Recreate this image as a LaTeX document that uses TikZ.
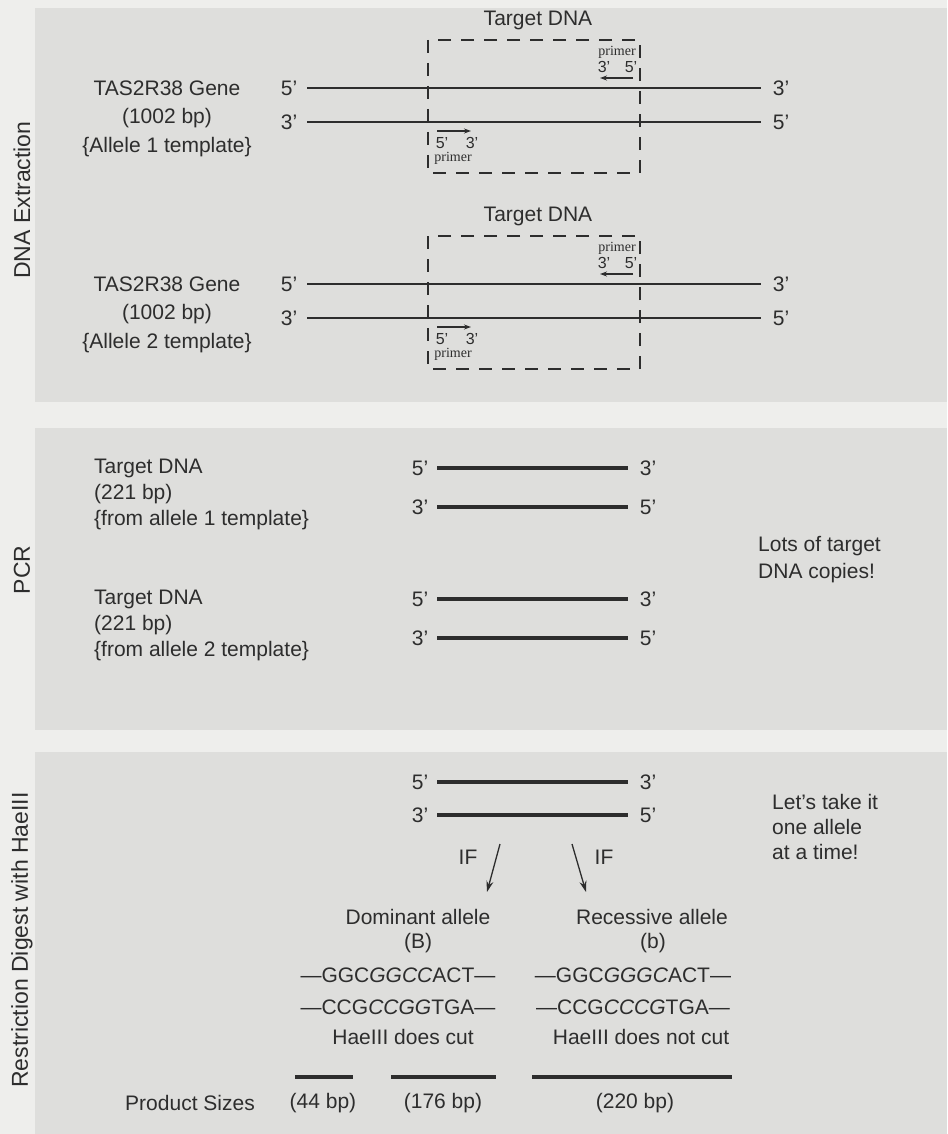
\documentclass[tikz,border=0pt]{standalone}
\usepackage{fontspec}
\setmainfont{Liberation Sans}
\newfontfamily\serifprimer{Liberation Serif}
\usetikzlibrary{arrows.meta}
\definecolor{ink}{RGB}{45,45,45}
\definecolor{bgtone}{RGB}{238,238,236}
\definecolor{paneltone}{RGB}{222,222,220}
\begin{document}
\begin{tikzpicture}[x=1pt,y=-1pt,
 lab/.style={font=\fontsize{21}{25}\selectfont, inner sep=0pt, text=ink},
 sec/.style={font=\fontsize{23}{27}\selectfont, inner sep=0pt, text=ink, rotate=90},
 strand/.style={draw=ink, line width=2.9pt},
 thickstrand/.style={draw=ink, line width=3.4pt},
 tbox/.style={draw=ink, line width=1.8pt, dash pattern=on 13pt off 10pt},
 plab/.style={font=\serifprimer\fontsize{14}{15}\selectfont, inner sep=0pt, text=ink},
 pend/.style={font=\fontsize{16}{18}\selectfont, inner sep=0pt, text=ink},
 parrow/.style={draw=ink, line width=1.2pt, -{Stealth[length=7pt,width=5pt]}},
 ifarrow/.style={draw=ink, line width=1.3pt, -{Stealth[length=11pt,width=7pt]}},
 panel/.style={fill=paneltone, draw=none}]
\useasboundingbox (0,0) rectangle (947,1134);
\fill[bgtone] (0,0) rectangle (947,1134);
\fill[panel] (35,8) rectangle (947,402);
\fill[panel] (35,428) rectangle (947,730);
\fill[panel] (35,752) rectangle (947,1134);

% section labels
\node[sec] (secA) at (22,200) {DNA Extraction};
\node[sec] (secB) at (22,570) {PCR};
\node[sec] (secC) at (22,940) {Restriction Digest with HaeIII};

% DNA extraction, two alleles
\foreach \i/\o in {1/0,2/196}{
  \node[lab] (td\i) at (538,20+\o) {Target DNA};
  \draw[tbox] (428,40+\o) rectangle (640,173+\o);
  \node[lab] (gA\i) at (167,88+\o) {TAS2R38 Gene};
  \node[lab] (gB\i) at (167,118+\o) {(1002 bp)};
  \node[lab] (gC\i) at (167,147+\o) {\{Allele \i\ template\}};
  \node[lab] (tl\i) at (289,88+\o) {5’};
  \node[lab] (tr\i) at (781,88+\o) {3’};
  \node[lab] (bl\i) at (289,122+\o) {3’};
  \node[lab] (br\i) at (781,122+\o) {5’};
  \coordinate (ta\i) at (307,88+\o);
  \coordinate (tb\i) at (761,88+\o);
  \coordinate (ba\i) at (307,122+\o);
  \coordinate (bb\i) at (761,122+\o);
  \draw[strand] (ta\i) -- (tb\i);
  \draw[strand] (ba\i) -- (bb\i);
  % reverse primer
  \node[plab] (rp\i) at (617,52+\o) {primer};
  \node[pend] (rp3\i) at (604,67+\o) {3’};
  \node[pend] (rp5\i) at (631,67+\o) {5’};
  \coordinate (rpa\i) at (633,78+\o);
  \coordinate (rpb\i) at (600,78+\o);
  \draw[parrow] (rpa\i) -- (rpb\i);
  % forward primer
  \coordinate (fpa\i) at (437,131+\o);
  \coordinate (fpb\i) at (471,131+\o);
  \draw[parrow] (fpa\i) -- (fpb\i);
  \node[pend] (fp5\i) at (442,143+\o) {5’};
  \node[pend] (fp3\i) at (472,143+\o) {3’};
  \node[plab] (fp\i) at (453,158+\o) {primer};
}

% PCR
\foreach \i/\o in {1/0,2/131}{
  \node[lab,anchor=west] (pA\i) at (94,468+\o) {Target DNA};
  \node[lab,anchor=west] (pB\i) at (94,494+\o) {(221 bp)};
  \node[lab,anchor=west] (pC\i) at (94,520+\o) {\{from allele \i\ template\}};
  \node[lab] (ptl\i) at (420,468+\o) {5’};
  \node[lab] (ptr\i) at (648,468+\o) {3’};
  \node[lab] (pbl\i) at (420,507+\o) {3’};
  \node[lab] (pbr\i) at (648,507+\o) {5’};
  \coordinate (pta\i) at (437,468+\o);
  \coordinate (ptb\i) at (628,468+\o);
  \coordinate (pba\i) at (437,507+\o);
  \coordinate (pbb\i) at (628,507+\o);
  \draw[thickstrand] (pta\i) -- (ptb\i);
  \draw[thickstrand] (pba\i) -- (pbb\i);
}
\node[lab,anchor=west] (lots1) at (758,546) {Lots of target};
\node[lab,anchor=west] (lots2) at (758,573) {DNA copies!};

% Restriction digest
\node[lab] (rtl) at (420,782) {5’};
\node[lab] (rtr) at (648,782) {3’};
\node[lab] (rbl) at (420,815) {3’};
\node[lab] (rbr) at (648,815) {5’};
\coordinate (rta) at (437,782);
\coordinate (rtb) at (628,782);
\coordinate (rba) at (437,815);
\coordinate (rbb) at (628,815);
\draw[thickstrand] (rta) -- (rtb);
\draw[thickstrand] (rba) -- (rbb);

\node[lab,anchor=west] (let1) at (772,802) {Let’s take it};
\node[lab,anchor=west] (let2) at (772,827) {one allele};
\node[lab,anchor=west] (let3) at (772,852) {at a time!};

\coordinate (ifLa) at (500,844);
\coordinate (ifLb) at (487,892);
\coordinate (ifRa) at (572,844);
\coordinate (ifRb) at (586,892);
\draw[ifarrow] (ifLa) -- (ifLb);
\draw[ifarrow] (ifRa) -- (ifRb);
\node[lab] (ifL) at (468,857) {IF};
\node[lab] (ifR) at (604,857) {IF};

\node[lab] (dom) at (418,917) {Dominant allele};
\node[lab] (domB) at (418,943) {(B)};
\node[lab] (domS1) at (398,975) {—GGC\textit{GGCC}ACT—};
\node[lab] (domS2) at (398,1007) {—CCG\textit{CCGG}TGA—};
\node[lab] (domC) at (403,1037) {HaeIII does cut};

\node[lab] (rec) at (652,917) {Recessive allele};
\node[lab] (recB) at (653,943) {(b)};
\node[lab] (recS1) at (633,975) {—GGC\textit{GGGC}ACT—};
\node[lab] (recS2) at (633,1007) {—CCG\textit{CCCG}TGA—};
\node[lab] (recC) at (641,1037) {HaeIII does not cut};

\coordinate (p1a) at (295,1077);
\coordinate (p1b) at (353,1077);
\coordinate (p2a) at (391,1077);
\coordinate (p2b) at (496,1077);
\coordinate (p3a) at (532,1077);
\coordinate (p3b) at (732,1077);
\draw[thickstrand] (p1a) -- (p1b);
\draw[thickstrand] (p2a) -- (p2b);
\draw[thickstrand] (p3a) -- (p3b);

\node[lab] (ps) at (190,1103) {Product Sizes};
\node[lab] (ps1) at (323,1103) {(44 bp)};
\node[lab] (ps2) at (443,1103) {(176 bp)};
\node[lab] (ps3) at (635,1103) {(220 bp)};
\end{tikzpicture}
\end{document}
